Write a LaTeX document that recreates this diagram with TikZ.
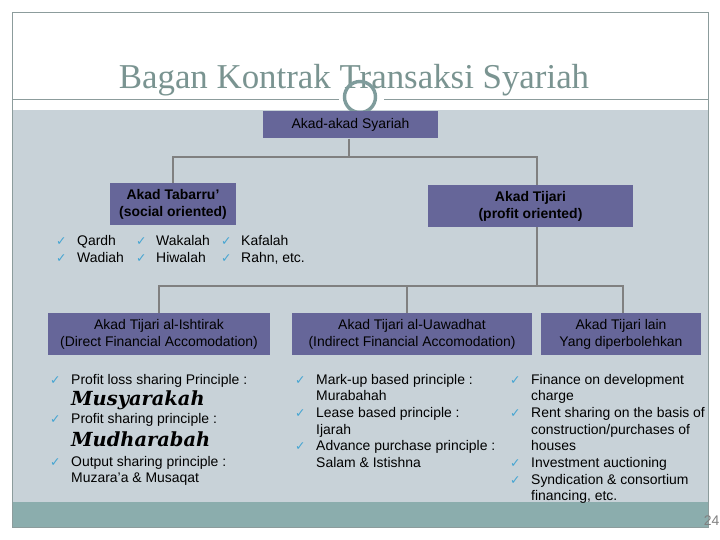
\documentclass[tikz,border=0pt]{standalone}
\usepackage{fontspec}
\setmainfont{Liberation Sans}
\newfontfamily\titlefont{Liberation Serif}
\newfontfamily\ckfamily{DejaVu Sans}
\newfontfamily\bigserif{DejaVu Serif}
\definecolor{panelc}{RGB}{200,210,216}
\definecolor{stripc}{RGB}{139,173,173}
\definecolor{framec}{RGB}{140,156,156}
\definecolor{titlec}{RGB}{122,148,145}
\definecolor{ringc}{RGB}{127,156,156}
\definecolor{boxc}{RGB}{102,102,153}
\definecolor{connc}{RGB}{128,128,128}
\definecolor{checkc}{RGB}{70,165,210}
\newcommand\itemfont{\fontsize{14}{16.7}\selectfont}
\newcommand\myboxfont{\fontsize{14}{17}\selectfont}
\newcommand\itemlines[4]{%
  \foreach \tx [count=\i from 0] in {#4} {\node[itm] (#1\i) at (#2, #3+16.7*\i) {\tx};}}
\tikzset{
  boxnode/.style={fill=boxc, inner sep=0, align=center, font=\myboxfont, text=black, execute at begin node=\color{black}},
  conn/.style={draw=connc, line width=2.6bp},
  itm/.style={anchor=base west, inner sep=0, font=\itemfont, text=black},
  ck/.style={anchor=base west, inner sep=0, text=checkc, font=\ckfamily\fontsize{12.5}{13}\selectfont},
  bigname/.style={anchor=base west, inner sep=0, font=\bigserif\bfseries\itshape\fontsize{19.5}{20}\selectfont}
}
\begin{document}
\begin{tikzpicture}[x=1bp,y=-1bp]
\useasboundingbox (0,0) rectangle (720,540);
\fill[white] (0,0) rectangle (720,540);
\fill[panelc] (12,110) rectangle (708,502);
\fill[stripc] (12,502) rectangle (708,527);
\draw[framec, line width=1bp] (12,13) rectangle (708,527);
% title
\node[anchor=base, inner sep=0, text=titlec, font=\titlefont\fontsize{35}{38}\selectfont] (title) at (354,89) {Bagan Kontrak Transaksi Syariah};
\draw[framec, line width=1bp] (12,100) -- (339,100);
\draw[framec, line width=1bp] (384,100) -- (708,100);
\draw[ringc, line width=3.4bp] (360,97) circle (15.5);
% boxes
\node[boxnode, minimum width=175, minimum height=28] (syr) at (350.5,124.5) {Akad-akad Syariah};
\node[boxnode, minimum width=126, minimum height=42, font=\myboxfont\bfseries] (tab) at (173,204) {Akad Tabarru’\\(social oriented)};
\node[boxnode, minimum width=205, minimum height=42, font=\myboxfont\bfseries] (tij) at (530.5,206) {Akad Tijari\\(profit oriented)};
\node[boxnode, minimum width=223, minimum height=42] (ish) at (159,334) {Akad Tijari al-Ishtirak\\(Direct Financial Accomodation)};
\node[boxnode, minimum width=240, minimum height=42] (uaw) at (412,334) {Akad Tijari al-Uawadhat\\(Indirect Financial Accomodation)};
\node[boxnode, minimum width=160, minimum height=42] (lain) at (621,334) {Akad Tijari lain\\Yang diperbolehkan};
% connectors
\coordinate (t) at (349,157);
\coordinate (j) at (537,286);
\draw[conn] (syr.south -| t) -- (t);
\draw[conn] (tab.north) |- (t);
\draw[conn] (tij.north -| j) |- (t);
\draw[conn] (tij.south -| j) -- (j);
\draw[conn] (ish.north) |- (j);
\draw[conn] ([xshift=-5bp]uaw.north) -- ([xshift=-5bp]uaw.north |- j);
\draw[conn] ([xshift=2bp]lain.north) |- (j);
% tabarru list
\node[ck] (c1) at (56,246) {✓};
\node[itm] (q1) at (77,246) {Qardh};
\node[ck] (c2) at (56,263) {✓};
\node[itm] (q2) at (77,263) {Wadiah};
\node[ck] (c3) at (136,246) {✓};
\node[itm] (q3) at (156,246) {Wakalah};
\node[ck] (c4) at (136,263) {✓};
\node[itm] (q4) at (156,263) {Hiwalah};
\node[ck] (c5) at (221,246) {✓};
\node[itm] (q5) at (241,246) {Kafalah};
\node[ck] (c6) at (221,263) {✓};
\node[itm] (q6) at (241,263) {Rahn, etc.};
% left list
\node[ck] (lc1) at (50,384) {✓};
\node[itm] (l1) at (71,384) {Profit loss sharing Principle :};
\node[bigname] (l2) at (71,405) {Musyarakah};
\node[ck] (lc2) at (50,423) {✓};
\node[itm] (l3) at (71,423) {Profit sharing principle :};
\node[bigname] (l4) at (71,446) {Mudharabah};
\node[ck] (lc3) at (50,466) {✓};
\node[itm] (l5) at (71,466) {Output sharing principle :};
\node[itm] (l6) at (71,482.7) {Muzara'a \& Musaqat};
% middle list
\itemlines{m}{316}{384}{Mark-up based principle :, Murabahah, Lease based principle :, Ijarah, Advance purchase principle :, Salam \& Istishna}
\node[ck] (mc1) at (295,384) {✓};
\node[ck] (mc2) at (295,417.4) {✓};
\node[ck] (mc3) at (295,450.8) {✓};
% right list
\itemlines{r}{531}{384}{Finance on development, charge, Rent sharing on the basis of, construction/purchases of, houses, Investment auctioning, Syndication \& consortium, {financing, etc.}}
\node[ck] (rc1) at (510,384) {✓};
\node[ck] (rc2) at (510,417.4) {✓};
\node[ck] (rc3) at (510,467.5) {✓};
\node[ck] (rc4) at (510,484.2) {✓};
% page number
\node[anchor=base east, inner sep=0, text=connc, font=\itemfont] (pg) at (719.5,525) {24};
\end{tikzpicture}
\end{document}
